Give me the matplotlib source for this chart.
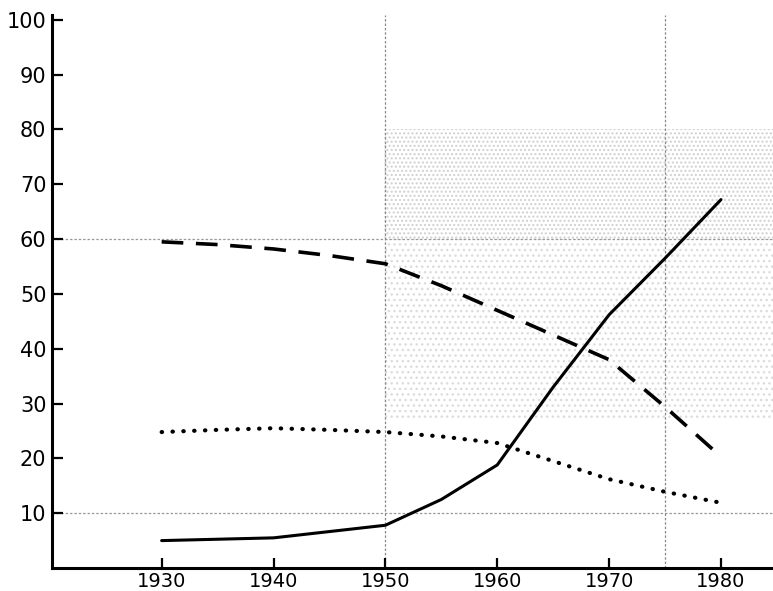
import matplotlib
matplotlib.use('Agg')
import matplotlib.pyplot as plt

# values (percent)
years_solid = [1930, 1940, 1950, 1955, 1960, 1965, 1970, 1975, 1980]
solid = [5.0, 5.5, 7.8, 12.5, 18.8, 33.0, 46.2, 56.5, 67.2]

years_dashed = [1930, 1935, 1940, 1945, 1950, 1955, 1960, 1965, 1970, 1975, 1980]
dashed = [59.5, 59.0, 58.2, 57.0, 55.5, 51.5, 47.0, 42.5, 38.0, 29.4, 20.3]

years_dotted = [1930, 1935, 1940, 1945, 1950, 1955, 1960, 1965, 1970, 1975, 1980]
dotted = [24.8, 25.2, 25.5, 25.2, 24.8, 24.0, 22.8, 19.5, 16.2, 13.9, 11.9]

xticks = [1930, 1940, 1950, 1960, 1970, 1980]
yticks = [10, 20, 30, 40, 50, 60, 70, 80, 90, 100]

fig = plt.figure(figsize=(7.73, 5.91), dpi=100)
ax = fig.add_axes([0.0673, 0.0389, 0.9327, 0.935])

# faint screen texture of the scanned grid paper
ax.axhspan(60, 80, xmin=0.46, xmax=1.0, facecolor='none', edgecolor='#d0d0d0',
           hatch='....', linewidth=0, zorder=0)
ax.axhspan(27, 60, xmin=0.46, xmax=1.0, facecolor='none', edgecolor='#dcdcdc',
           hatch='...', linewidth=0, zorder=0)

# grid lines visible in the scan
for yv in [10, 60]:
    ax.axhline(yv, color='#9a9a9a', lw=0.9, ls=(0, (2, 1.5)), zorder=1)
for xv in [1950, 1975]:
    ax.axvline(xv, color='#8a8a8a', lw=0.9, ls=(0, (2, 1.5)), zorder=1)

ax.plot(years_solid, solid, color='black', lw=2.2, solid_capstyle='round', zorder=3)
ax.plot(years_dashed, dashed, color='black', lw=2.6, ls=(0, (6, 3.5)), zorder=3)
ax.plot(years_dotted, dotted, color='black', lw=3.0, ls=(0, (0.1, 2.5)),
        dash_capstyle='round', zorder=3)

ax.set_xlim(1920.2, 1984.65)
ax.set_ylim(0, 100.8)
ax.set_xticks(xticks)
ax.set_xticklabels([str(x) for x in xticks])
ax.set_yticks(yticks)
ax.set_yticklabels([str(y) for y in yticks])

ax.spines['top'].set_visible(False)
ax.spines['right'].set_visible(False)
ax.spines['left'].set_linewidth(2.2)
ax.spines['bottom'].set_linewidth(2.2)
ax.tick_params(axis='y', direction='in', length=8, width=1.6, labelsize=15, pad=4)
ax.tick_params(axis='x', direction='in', length=7, width=1.6, labelsize=14, pad=3)

fig.savefig('out.png', dpi=100)
